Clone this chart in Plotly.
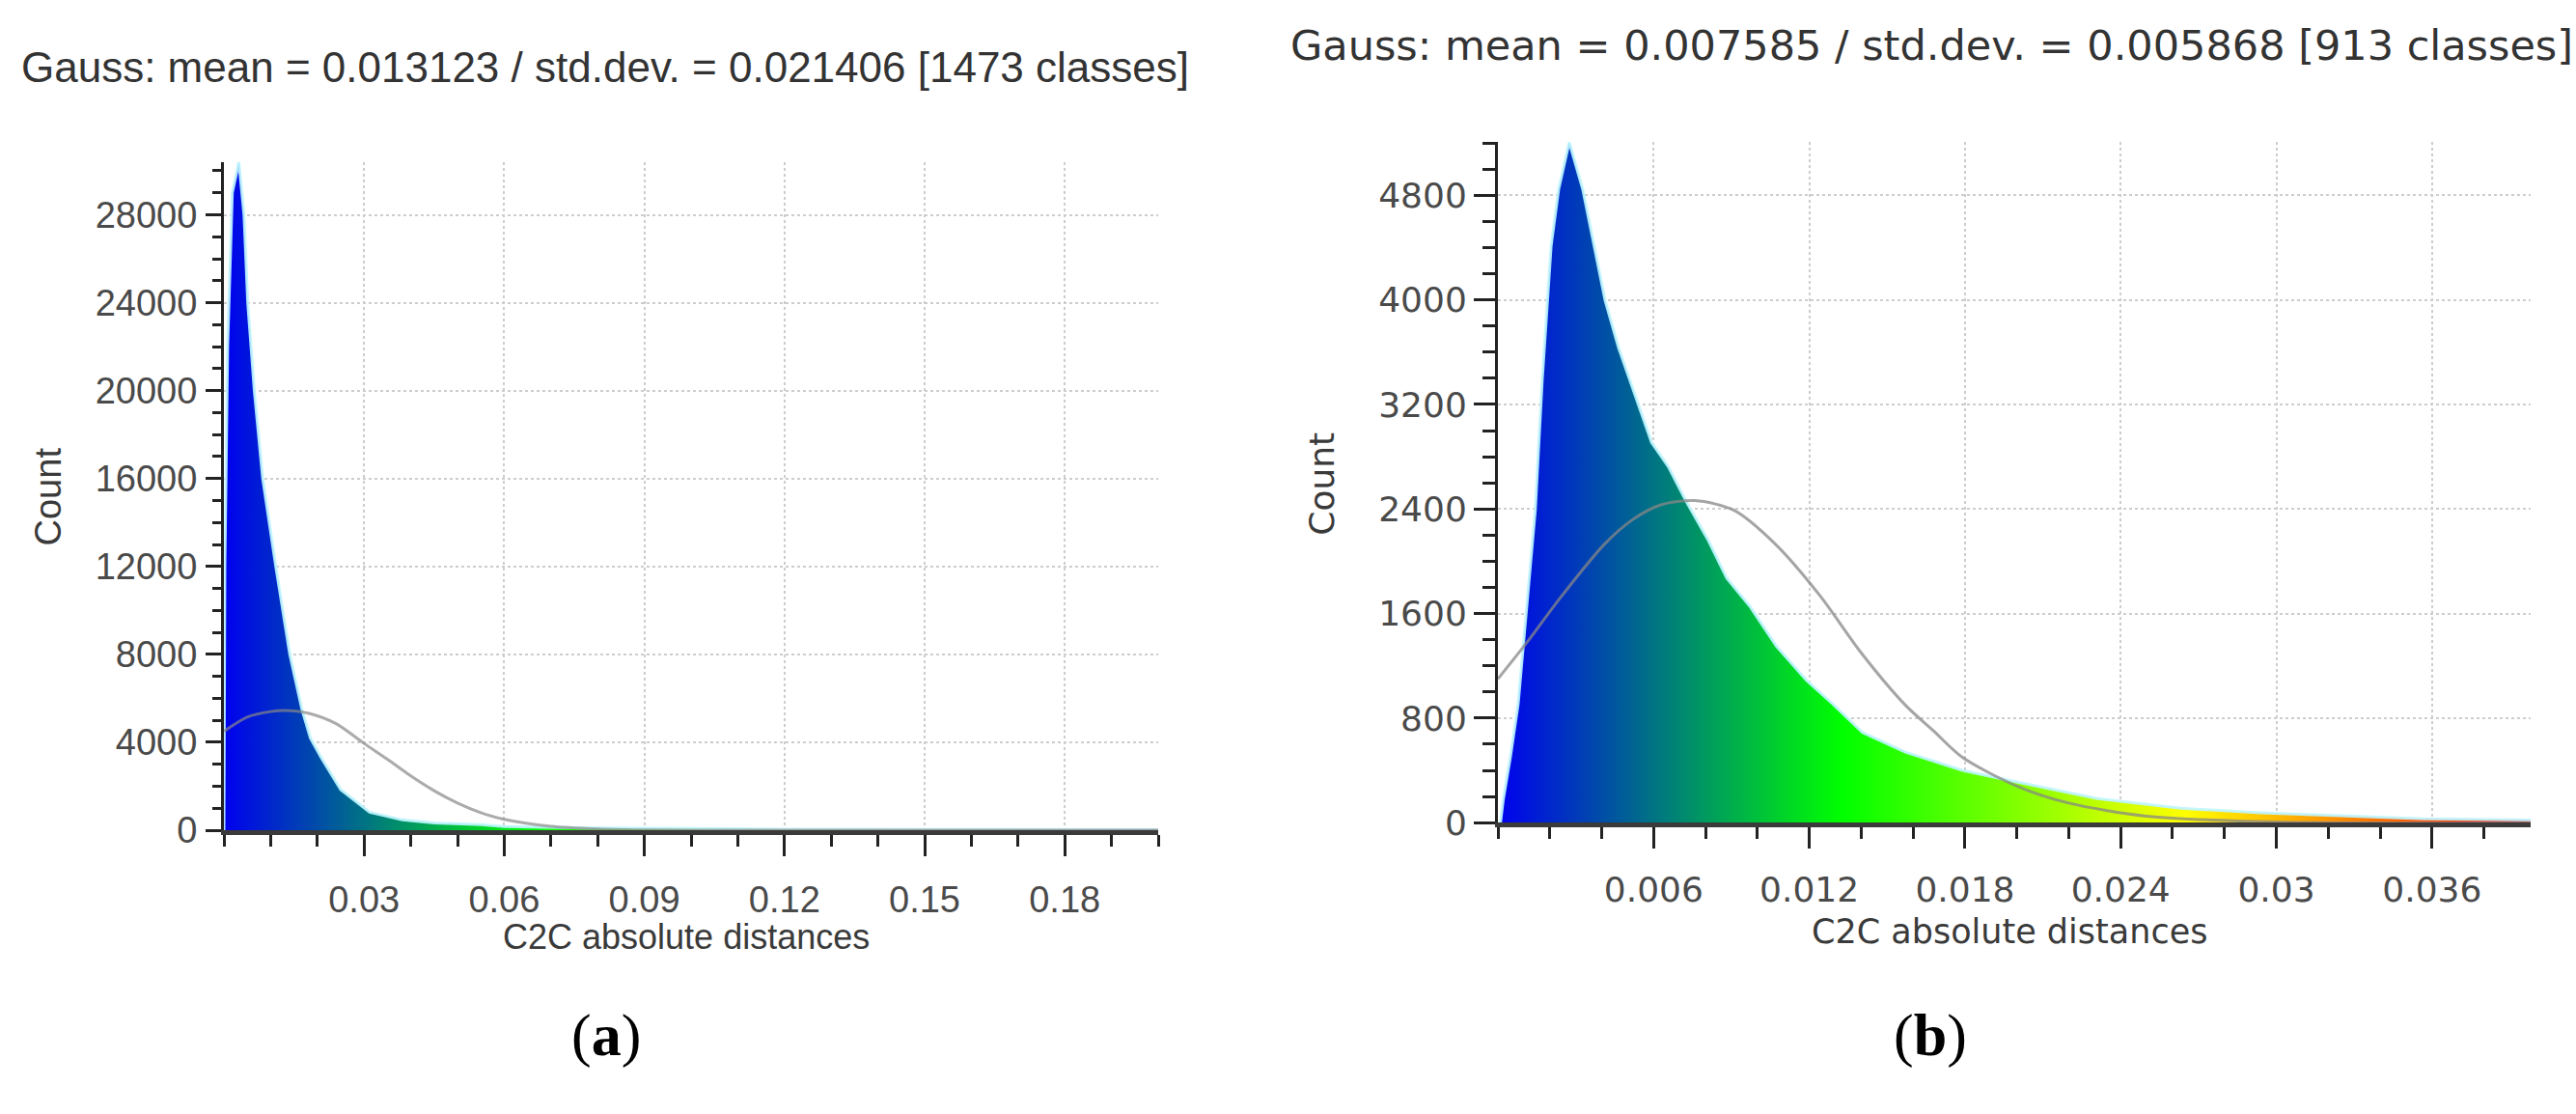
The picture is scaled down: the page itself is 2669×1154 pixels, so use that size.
import plotly.graph_objects as go

W, H = 2669, 1154

# ---------------- data ----------------
# Panel (a): histogram envelope (C2C distance, count)
a_hist_x = [0.0, 0.0002, 0.0008, 0.0018, 0.0032, 0.0043, 0.0051, 0.0065, 0.0083, 0.0111,
            0.0141, 0.0167, 0.0185, 0.0209, 0.025, 0.0312, 0.0382, 0.045, 0.055, 0.06,
            0.075, 0.09, 0.12, 0.15, 0.2]
a_hist_y = [0, 12000, 22000, 29000, 30400, 28000, 24000, 20000, 16000, 12000,
            8000, 5500, 4200, 3270, 1850, 820, 470, 330, 260, 170,
            110, 80, 50, 35, 25]
# Panel (a): fitted Gauss curve
a_gauss_x = [0.0, 0.005, 0.01, 0.013, 0.018, 0.024, 0.03, 0.035, 0.04, 0.045, 0.05,
             0.055, 0.06, 0.07, 0.08, 0.09, 0.1, 0.2]
a_gauss_y = [4500, 5150, 5400, 5450, 5330, 4850, 3950, 3230, 2470, 1800, 1240,
             800, 500, 180, 60, 15, 0, 0]

# Panel (b): histogram envelope
b_hist_x = [0.0001, 0.0002, 0.00048, 0.00078, 0.00111, 0.00144, 0.00171, 0.00205, 0.00234,
            0.00275, 0.00327, 0.00372, 0.00413, 0.00465, 0.00542, 0.00592, 0.00658,
            0.00725, 0.00808, 0.00882, 0.00973, 0.01073, 0.01189, 0.01289, 0.01405,
            0.0157, 0.0179, 0.0199, 0.0231, 0.0263, 0.0294, 0.0326, 0.0357, 0.0398]
b_hist_y = [0, 167, 500, 908, 1650, 2390, 3394, 4410, 4845,
            5207, 4845, 4410, 3997, 3634, 3200, 2910, 2720,
            2460, 2170, 1870, 1650, 1350, 1090, 910, 690,
            540, 400, 315, 185, 110, 75, 50, 30, 20]
# Panel (b): fitted Gauss curve
b_gauss_x = [0.0, 0.0012, 0.0024, 0.0041, 0.0052, 0.00625, 0.0076, 0.0091, 0.0107, 0.0124,
             0.014, 0.0157, 0.0168, 0.0179, 0.02, 0.022, 0.025, 0.03, 0.0398]
b_gauss_y = [1100, 1400, 1720, 2130, 2320, 2430, 2465, 2390, 2130, 1740,
             1300, 900, 700, 500, 280, 150, 50, 5, 0]

# Tick labels
a_xtick_vals = [0.03, 0.06, 0.09, 0.12, 0.15, 0.18]
a_xtick_text = ["0.03", "0.06", "0.09", "0.12", "0.15", "0.18"]
b_xtick_vals = [0.006, 0.012, 0.018, 0.024, 0.03, 0.036]
b_xtick_text = ["0.006", "0.012", "0.018", "0.024", "0.03", "0.036"]

a_title = "Gauss: mean = 0.013123 / std.dev. = 0.021406 [1473 classes]"
b_title = "Gauss: mean = 0.007585 / std.dev. = 0.005868 [913 classes]"
x_label = "C2C absolute distances"
y_label = "Count"

a_xrange = [0, 0.2]
a_yrange = [0, 30400]
b_xrange = [0, 0.0398]
b_yrange = [0, 5207]

# ---------------- styling ----------------
BGYR = [[0.0, "rgb(0,0,240)"], [0.333, "rgb(0,255,0)"],
        [0.666, "rgb(255,255,0)"], [1.0, "rgb(255,0,0)"]]
FA = "Liberation Sans, Arial, sans-serif"
FB = "DejaVu Sans, Verdana, sans-serif"
GRID = "rgb(205,205,205)"


def px_x(p):
    return p / W


def px_y(p):
    return 1 - p / H


fig = go.Figure()

fig.add_trace(go.Scatter(
    x=a_hist_x, y=a_hist_y, mode="lines", fill="tozeroy",
    line=dict(color="rgba(190,245,255,0.9)", width=3),
    fillgradient=dict(type="horizontal", colorscale=BGYR, start=a_xrange[0], stop=a_xrange[1]),
    xaxis="x", yaxis="y", hoverinfo="skip", showlegend=False))
fig.add_trace(go.Scatter(
    x=a_gauss_x, y=a_gauss_y, mode="lines",
    line=dict(color="rgba(135,135,135,0.7)", width=3, shape="spline", smoothing=0.8),
    xaxis="x", yaxis="y", hoverinfo="skip", showlegend=False))

fig.add_trace(go.Scatter(
    x=b_hist_x, y=b_hist_y, mode="lines", fill="tozeroy",
    line=dict(color="rgba(190,245,255,0.9)", width=3),
    fillgradient=dict(type="horizontal", colorscale=BGYR, start=b_xrange[0], stop=b_xrange[1]),
    xaxis="x2", yaxis="y2", hoverinfo="skip", showlegend=False))
fig.add_trace(go.Scatter(
    x=b_gauss_x, y=b_gauss_y, mode="lines",
    line=dict(color="rgba(135,135,135,0.75)", width=3, shape="spline", smoothing=0.8),
    xaxis="x2", yaxis="y2", hoverinfo="skip", showlegend=False))


def xaxis(domain, rng, vals, text, minor_dt, font, size, anchor):
    return dict(domain=domain, range=rng, anchor=anchor, tickmode="array",
                tickvals=vals, ticktext=text, ticks="outside", ticklen=22, tickwidth=3,
                tickcolor="#222", showline=True, linecolor="#3a3a3a", linewidth=5,
                showgrid=True, gridcolor=GRID, gridwidth=2, griddash="dot",
                zeroline=False, ticklabelstandoff=12,
                tickfont=dict(family=font, size=size, color="#4a4a4a"),
                minor=dict(dtick=minor_dt, tick0=0, ticks="outside", ticklen=12,
                           tickwidth=3, tickcolor="#222", showgrid=False),
                fixedrange=True)


def yaxis(domain, rng, dt, minor_dt, font, size, anchor, tl, standoff):
    return dict(domain=domain, range=rng, anchor=anchor, tick0=0, dtick=dt,
                tickformat="d", ticks="outside", ticklen=tl, tickwidth=3,
                tickcolor="#222", showline=True, linecolor="#222", linewidth=3,
                showgrid=True, gridcolor=GRID, gridwidth=2, griddash="dot",
                zeroline=False, ticklabelstandoff=standoff,
                tickfont=dict(family=font, size=size, color="#4a4a4a"),
                minor=dict(dtick=minor_dt, tick0=0, ticks="outside", ticklen=int(tl * 0.6),
                           tickwidth=3, tickcolor="#222", showgrid=False),
                fixedrange=True)


fig.update_layout(
    width=W, height=H, margin=dict(l=0, r=0, t=0, b=0),
    paper_bgcolor="white", plot_bgcolor="white", hovermode=False,
    xaxis=xaxis([px_x(232), px_x(1200)], a_xrange, a_xtick_vals, a_xtick_text, 0.01, FA, 38, "y"),
    yaxis=yaxis([px_y(876), px_y(171)], a_yrange, 4000, 1000, FA, 38, "x", 16, 1),
    xaxis2=xaxis([px_x(1552), px_x(2622)], b_xrange, b_xtick_vals, b_xtick_text, 0.002, FB, 36, "y2"),
    yaxis2=yaxis([px_y(868), px_y(150)], b_yrange, 800, 200, FB, 36, "x2", 22, 0),
)

ann = [
    dict(text=a_title, x=px_x(20), y=px_y(71), xanchor="left", yanchor="middle",
         font=dict(family=FA, size=44, color="#333")),
    dict(text=b_title, x=px_x(1335), y=px_y(48), xanchor="left", yanchor="middle",
         font=dict(family=FB, size=43, color="#333")),
    dict(text=x_label, x=px_x(711), y=px_y(988), xanchor="center", yanchor="middle",
         font=dict(family=FA, size=36, color="#3a3a3a")),
    dict(text=x_label, x=px_x(2082), y=px_y(983), xanchor="center", yanchor="middle",
         font=dict(family=FB, size=35, color="#3a3a3a")),
    dict(text=y_label, x=px_x(50), y=px_y(524), xanchor="center", yanchor="middle",
         textangle=-90, font=dict(family=FA, size=38, color="#3a3a3a")),
    dict(text=y_label, x=px_x(1370), y=px_y(510), xanchor="center", yanchor="middle",
         textangle=-90, font=dict(family=FB, size=36, color="#3a3a3a")),
    dict(text="(<b>a</b>)", x=px_x(628), y=px_y(1092), xanchor="center", yanchor="middle",
         font=dict(family="Liberation Serif, Times New Roman, serif", size=62, color="black")),
    dict(text="(<b>b</b>)", x=px_x(2000), y=px_y(1092), xanchor="center", yanchor="middle",
         font=dict(family="Liberation Serif, Times New Roman, serif", size=62, color="black")),
]
for a in ann:
    a.update(xref="paper", yref="paper", showarrow=False)
fig.update_layout(annotations=ann)

fig.write_html("out.html", config={"displayModeBar": False},
               post_script="document.body.style.margin='0';document.body.style.overflow='hidden';")
